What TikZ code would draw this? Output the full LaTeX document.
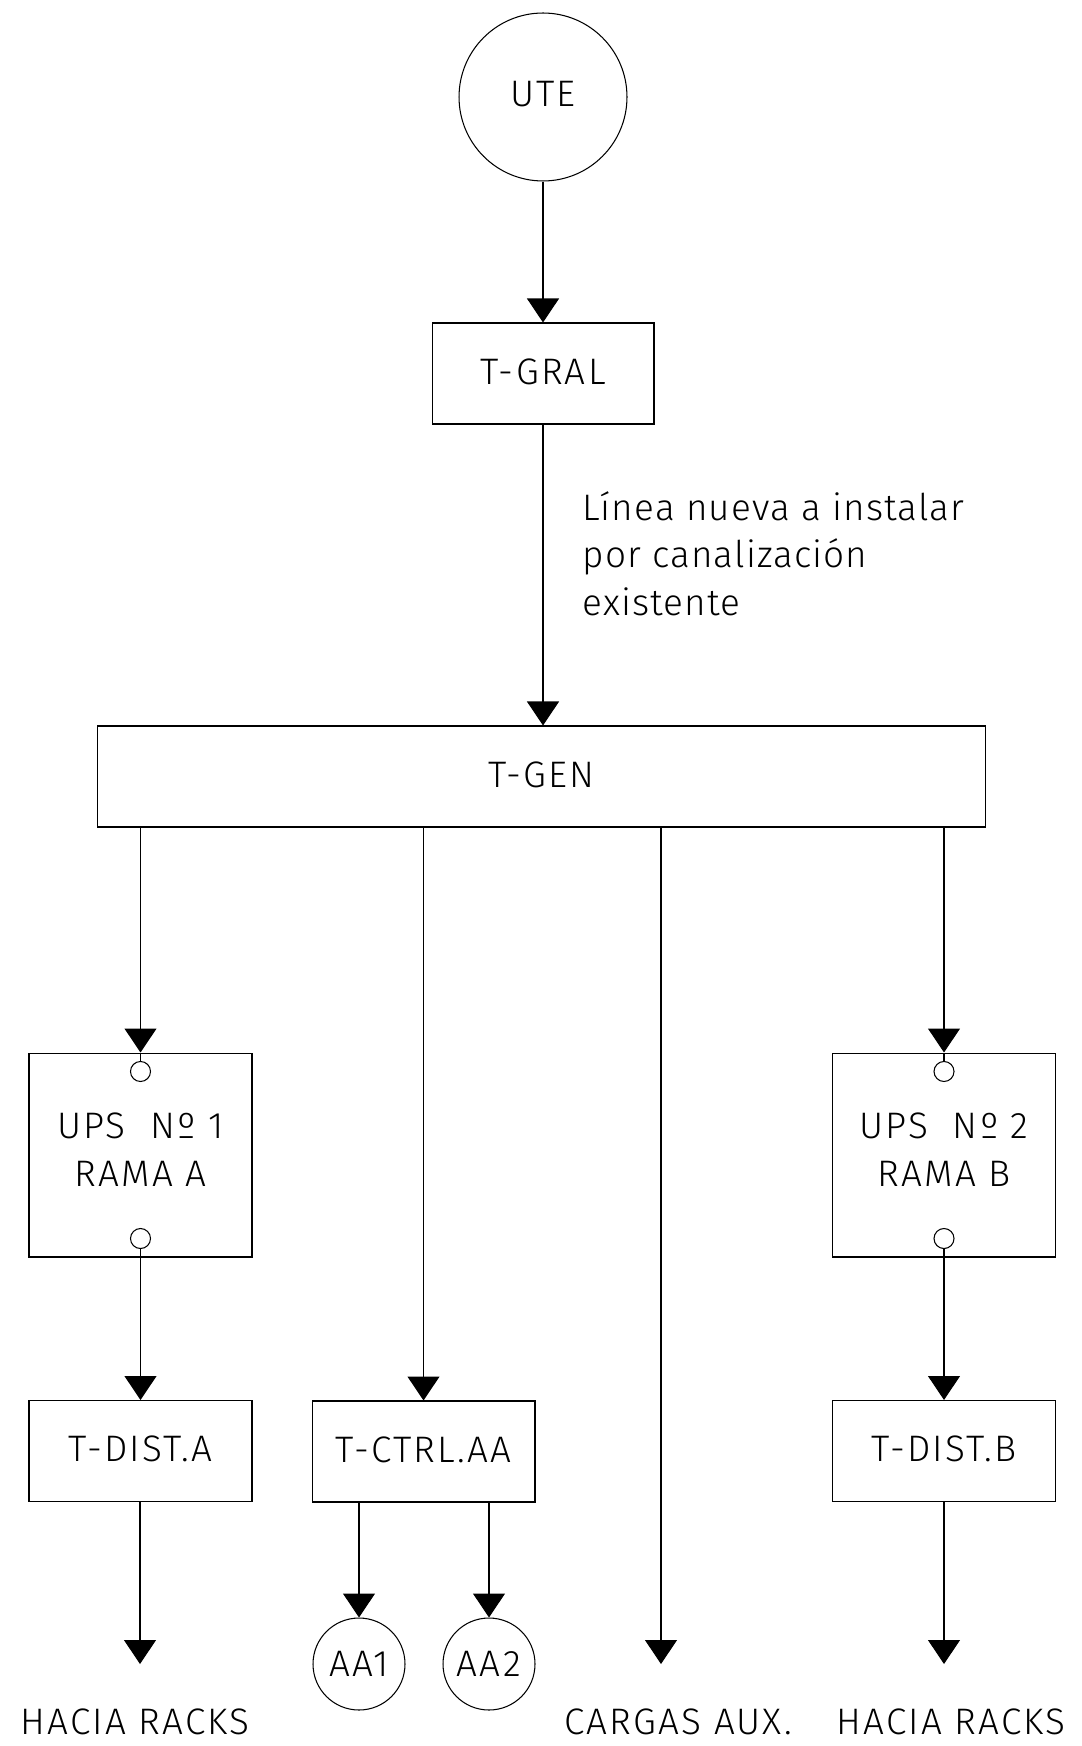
\documentclass[tikz,border=0pt]{standalone}
\usepackage{fontspec}
\setmainfont{Fira Sans Light}[LetterSpace=6]
\usetikzlibrary{arrows.meta}

\begin{document}
\begin{tikzpicture}[x=0.02cm,y=-0.02cm,line width=.6pt,
    txt/.style={font=\fontsize{21}{27}\selectfont,inner sep=0pt},
    tablero/.style={txt,draw,rectangle,minimum width=4.46cm,minimum height=2.02cm,
      align=center,text depth=.09cm},
    carga/.style={txt,draw,circle,minimum size=1.84cm},
    borne/.style={draw,circle,minimum size=.4cm,inner sep=0pt},
    feed/.style={-{Triangle[width=.64cm,length=.48cm]}}]
    \useasboundingbox (0,0) rectangle (1081,1746);
    % fuente y tableros
    \node[txt,draw,circle,minimum size=3.36cm,text depth=.13cm] (ute) at (543,97) {UTE};
    \node[tablero,minimum width=4.44cm] (tgral) at (543,373.5) {T-GRAL};
    \node[tablero,minimum width=17.78cm] (tgen) at (541.5,776.5) {T-GEN};
    \node[txt,anchor=north west,align=left,font=\fontsize{21}{27}\selectfont\addfontfeatures{LetterSpace=3}]
      (nota) at (582,491) {Línea nueva a instalar\\por canalización\\existente};
    \node[tablero,minimum height=4.08cm,text depth=.22cm] (ups1) at (140.5,1155) {UPS\ \ Nº 1\\RAMA A};
    \node[tablero,minimum height=4.08cm,text depth=.22cm] (ups2) at (944,1155) {UPS\ \ Nº 2\\RAMA B};
    \node[tablero] (tdista) at (140.5,1451) {T-DIST.A};
    \node[tablero] (tctrl) at (423.5,1451.5) {T-CTRL.AA};
    \node[tablero] (tdistb) at (944,1451) {T-DIST.B};
    \node[carga] (aa1) at (359,1664) {AA1};
    \node[carga] (aa2) at (489,1664) {AA2};
    % bornes de las UPS
    \foreach \u in {ups1,ups2} {
      \node[borne] (\u in) at ([yshift=-.38cm]\u.north) {};
      \node[borne] (\u out) at ([yshift=.38cm]\u.south) {};
    }
    % salidas
    \coordinate (finA) at (140,1664);
    \coordinate (finC) at (661,1664);
    \coordinate (finB) at (944,1664);
    \node[txt,anchor=base] (rackA) at (135,1734) {HACIA RACKS};
    \node[txt,anchor=base] (aux) at (678,1734) {CARGAS AUX.};
    \node[txt,anchor=base] (rackB) at (951,1734) {HACIA RACKS};
    % conexiones
    \draw[feed] (ute) -- (tgral);
    \draw[feed] (tgral.south) -- (tgral.south |- tgen.north);
    \foreach \u in {ups1,ups2}
      \draw[feed] (tgen.south -| \u) -- (\u.north);
    \draw (ups1in) -- (ups1.north);
    \draw (ups2in) -- (ups2.north);
    \draw[feed] (ups1out) -- (tdista.north);
    \draw[feed] (ups2out) -- (tdistb.north);
    \draw[feed] (tgen.south -| tctrl) -- (tctrl.north);
    \draw[feed] (tctrl.south -| aa1) -- (aa1.north);
    \draw[feed] (tctrl.south -| aa2) -- (aa2.north);
    \draw[feed] (tdista.south -| finA) -- (finA);
    \draw[feed] (tgen.south -| finC) -- (finC);
    \draw[feed] (tdistb.south -| finB) -- (finB);
\end{tikzpicture}
\end{document}
